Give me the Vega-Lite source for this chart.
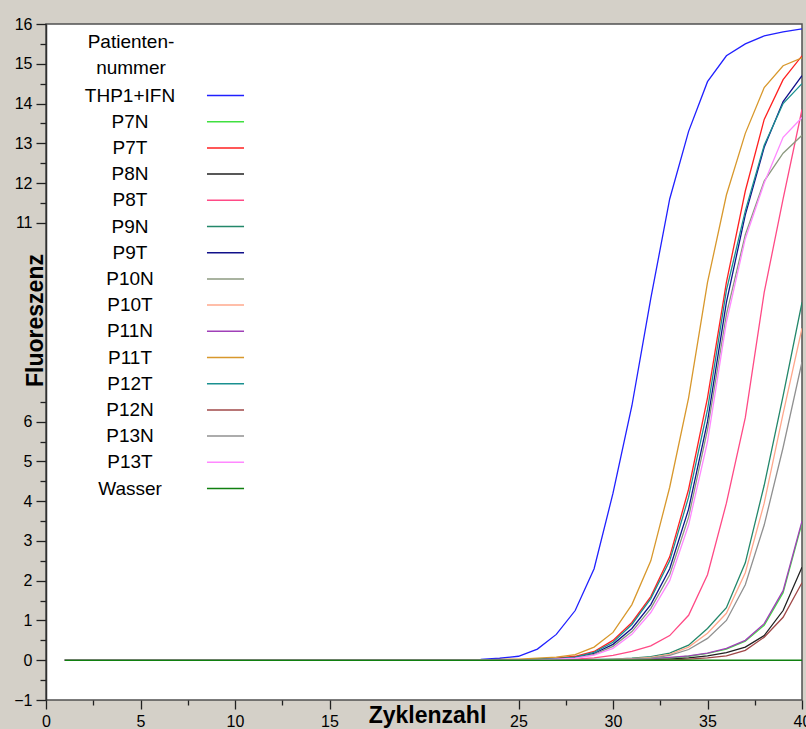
{
  "$schema": "https://vega.github.io/schema/vega-lite/v6.json",
  "width": 756,
  "height": 676,
  "autosize": {"type": "none"},
  "padding": {"left": 46, "top": 24, "right": 4, "bottom": 29},
  "background": "#d4d0c8",
  "config": {
    "view": {"fill": "white", "stroke": "#505050", "strokeWidth": 1.5},
    "font": "Liberation Sans"
  },
  "data": {"values": [
    {"c":1,"THP1+IFN":0,"P7N":0,"P7T":0,"P8N":0,"P8T":0,"P9N":0,"P9T":0,"P10N":0,"P10T":0,"P11N":0,"P11T":0,"P12T":0,"P12N":0,"P13N":0,"P13T":0,"Wasser":0},
    {"c":2,"THP1+IFN":0,"P7N":0,"P7T":0,"P8N":0,"P8T":0,"P9N":0,"P9T":0,"P10N":0,"P10T":0,"P11N":0,"P11T":0,"P12T":0,"P12N":0,"P13N":0,"P13T":0,"Wasser":0},
    {"c":3,"THP1+IFN":0,"P7N":0,"P7T":0,"P8N":0,"P8T":0,"P9N":0,"P9T":0,"P10N":0,"P10T":0,"P11N":0,"P11T":0,"P12T":0,"P12N":0,"P13N":0,"P13T":0,"Wasser":0},
    {"c":4,"THP1+IFN":0,"P7N":0,"P7T":0,"P8N":0,"P8T":0,"P9N":0,"P9T":0,"P10N":0,"P10T":0,"P11N":0,"P11T":0,"P12T":0,"P12N":0,"P13N":0,"P13T":0,"Wasser":0},
    {"c":5,"THP1+IFN":0,"P7N":0,"P7T":0,"P8N":0,"P8T":0,"P9N":0,"P9T":0,"P10N":0,"P10T":0,"P11N":0,"P11T":0,"P12T":0,"P12N":0,"P13N":0,"P13T":0,"Wasser":0},
    {"c":6,"THP1+IFN":0,"P7N":0,"P7T":0,"P8N":0,"P8T":0,"P9N":0,"P9T":0,"P10N":0,"P10T":0,"P11N":0,"P11T":0,"P12T":0,"P12N":0,"P13N":0,"P13T":0,"Wasser":0},
    {"c":7,"THP1+IFN":0,"P7N":0,"P7T":0,"P8N":0,"P8T":0,"P9N":0,"P9T":0,"P10N":0,"P10T":0,"P11N":0,"P11T":0,"P12T":0,"P12N":0,"P13N":0,"P13T":0,"Wasser":0},
    {"c":8,"THP1+IFN":0,"P7N":0,"P7T":0,"P8N":0,"P8T":0,"P9N":0,"P9T":0,"P10N":0,"P10T":0,"P11N":0,"P11T":0,"P12T":0,"P12N":0,"P13N":0,"P13T":0,"Wasser":0},
    {"c":9,"THP1+IFN":0,"P7N":0,"P7T":0,"P8N":0,"P8T":0,"P9N":0,"P9T":0,"P10N":0,"P10T":0,"P11N":0,"P11T":0,"P12T":0,"P12N":0,"P13N":0,"P13T":0,"Wasser":0},
    {"c":10,"THP1+IFN":0,"P7N":0,"P7T":0,"P8N":0,"P8T":0,"P9N":0,"P9T":0,"P10N":0,"P10T":0,"P11N":0,"P11T":0,"P12T":0,"P12N":0,"P13N":0,"P13T":0,"Wasser":0},
    {"c":11,"THP1+IFN":0,"P7N":0,"P7T":0,"P8N":0,"P8T":0,"P9N":0,"P9T":0,"P10N":0,"P10T":0,"P11N":0,"P11T":0,"P12T":0,"P12N":0,"P13N":0,"P13T":0,"Wasser":0},
    {"c":12,"THP1+IFN":0,"P7N":0,"P7T":0,"P8N":0,"P8T":0,"P9N":0,"P9T":0,"P10N":0,"P10T":0,"P11N":0,"P11T":0,"P12T":0,"P12N":0,"P13N":0,"P13T":0,"Wasser":0},
    {"c":13,"THP1+IFN":0,"P7N":0,"P7T":0,"P8N":0,"P8T":0,"P9N":0,"P9T":0,"P10N":0,"P10T":0,"P11N":0,"P11T":0,"P12T":0,"P12N":0,"P13N":0,"P13T":0,"Wasser":0},
    {"c":14,"THP1+IFN":0,"P7N":0,"P7T":0,"P8N":0,"P8T":0,"P9N":0,"P9T":0,"P10N":0,"P10T":0,"P11N":0,"P11T":0,"P12T":0,"P12N":0,"P13N":0,"P13T":0,"Wasser":0},
    {"c":15,"THP1+IFN":0,"P7N":0,"P7T":0,"P8N":0,"P8T":0,"P9N":0,"P9T":0,"P10N":0,"P10T":0,"P11N":0,"P11T":0,"P12T":0,"P12N":0,"P13N":0,"P13T":0,"Wasser":0},
    {"c":16,"THP1+IFN":0,"P7N":0,"P7T":0,"P8N":0,"P8T":0,"P9N":0,"P9T":0,"P10N":0,"P10T":0,"P11N":0,"P11T":0,"P12T":0,"P12N":0,"P13N":0,"P13T":0,"Wasser":0},
    {"c":17,"THP1+IFN":0,"P7N":0,"P7T":0,"P8N":0,"P8T":0,"P9N":0,"P9T":0,"P10N":0,"P10T":0,"P11N":0,"P11T":0,"P12T":0,"P12N":0,"P13N":0,"P13T":0,"Wasser":0},
    {"c":18,"THP1+IFN":0,"P7N":0,"P7T":0,"P8N":0,"P8T":0,"P9N":0,"P9T":0,"P10N":0,"P10T":0,"P11N":0,"P11T":0,"P12T":0,"P12N":0,"P13N":0,"P13T":0,"Wasser":0},
    {"c":19,"THP1+IFN":0,"P7N":0,"P7T":0,"P8N":0,"P8T":0,"P9N":0,"P9T":0,"P10N":0,"P10T":0,"P11N":0,"P11T":0,"P12T":0,"P12N":0,"P13N":0,"P13T":0,"Wasser":0},
    {"c":20,"THP1+IFN":0,"P7N":0,"P7T":0,"P8N":0,"P8T":0,"P9N":0,"P9T":0,"P10N":0,"P10T":0,"P11N":0,"P11T":0,"P12T":0,"P12N":0,"P13N":0,"P13T":0,"Wasser":0},
    {"c":21,"THP1+IFN":0,"P7N":0,"P7T":0,"P8N":0,"P8T":0,"P9N":0,"P9T":0,"P10N":0,"P10T":0,"P11N":0,"P11T":0,"P12T":0,"P12N":0,"P13N":0,"P13T":0,"Wasser":0},
    {"c":22,"THP1+IFN":0.01,"P7N":0,"P7T":0,"P8N":0,"P8T":0,"P9N":0,"P9T":0,"P10N":0,"P10T":0,"P11N":0,"P11T":0,"P12T":0,"P12N":0,"P13N":0,"P13T":0,"Wasser":0},
    {"c":23,"THP1+IFN":0.02,"P7N":0,"P7T":0,"P8N":0,"P8T":0,"P9N":0,"P9T":0,"P10N":0,"P10T":0,"P11N":0,"P11T":0.01,"P12T":0,"P12N":0,"P13N":0,"P13T":0,"Wasser":0},
    {"c":24,"THP1+IFN":0.05,"P7N":0,"P7T":0,"P8N":0,"P8T":0,"P9N":0,"P9T":0,"P10N":0,"P10T":0,"P11N":0,"P11T":0.02,"P12T":0,"P12N":0,"P13N":0,"P13T":0,"Wasser":0},
    {"c":25,"THP1+IFN":0.1,"P7N":0,"P7T":0.01,"P8N":0,"P8T":0,"P9N":0,"P9T":0.01,"P10N":0,"P10T":0,"P11N":0,"P11T":0.03,"P12T":0.01,"P12N":0,"P13N":0,"P13T":0,"Wasser":0},
    {"c":26,"THP1+IFN":0.28,"P7N":0,"P7T":0.02,"P8N":0,"P8T":0.01,"P9N":0,"P9T":0.02,"P10N":0.01,"P10T":0,"P11N":0,"P11T":0.05,"P12T":0.02,"P12N":0,"P13N":0,"P13T":0.01,"Wasser":0},
    {"c":27,"THP1+IFN":0.65,"P7N":0,"P7T":0.05,"P8N":0,"P8T":0.02,"P9N":0,"P9T":0.03,"P10N":0.03,"P10T":0,"P11N":0,"P11T":0.08,"P12T":0.04,"P12N":0,"P13N":0,"P13T":0.03,"Wasser":0},
    {"c":28,"THP1+IFN":1.25,"P7N":0,"P7T":0.1,"P8N":0,"P8T":0.03,"P9N":0.01,"P9T":0.07,"P10N":0.06,"P10T":0,"P11N":0,"P11T":0.14,"P12T":0.08,"P12N":0,"P13N":0,"P13T":0.05,"Wasser":0},
    {"c":29,"THP1+IFN":2.3,"P7N":0,"P7T":0.22,"P8N":0,"P8T":0.06,"P9N":0.02,"P9T":0.17,"P10N":0.15,"P10T":0.01,"P11N":0,"P11T":0.33,"P12T":0.2,"P12N":0,"P13N":0.01,"P13T":0.13,"Wasser":0},
    {"c":30,"THP1+IFN":4.2,"P7N":0.01,"P7T":0.5,"P8N":0,"P8T":0.12,"P9N":0.03,"P9T":0.4,"P10N":0.35,"P10T":0.02,"P11N":0.01,"P11T":0.7,"P12T":0.45,"P12N":0,"P13N":0.02,"P13T":0.3,"Wasser":0},
    {"c":31,"THP1+IFN":6.4,"P7N":0.02,"P7T":0.95,"P8N":0,"P8T":0.22,"P9N":0.05,"P9T":0.8,"P10N":0.72,"P10T":0.04,"P11N":0.02,"P11T":1.4,"P12T":0.9,"P12N":0,"P13N":0.03,"P13T":0.65,"Wasser":0},
    {"c":32,"THP1+IFN":9.1,"P7N":0.035,"P7T":1.6,"P8N":0.01,"P8T":0.36,"P9N":0.09,"P9T":1.4,"P10N":1.3,"P10T":0.07,"P11N":0.04,"P11T":2.5,"P12T":1.55,"P12N":0,"P13N":0.05,"P13T":1.2,"Wasser":0},
    {"c":33,"THP1+IFN":11.6,"P7N":0.06,"P7T":2.6,"P8N":0.03,"P8T":0.62,"P9N":0.18,"P9T":2.3,"P10N":2.15,"P10T":0.15,"P11N":0.07,"P11T":4.35,"P12T":2.5,"P12N":0.01,"P13N":0.12,"P13T":2.0,"Wasser":0},
    {"c":34,"THP1+IFN":13.3,"P7N":0.1,"P7T":4.3,"P8N":0.06,"P8T":1.13,"P9N":0.38,"P9T":3.8,"P10N":3.6,"P10T":0.33,"P11N":0.11,"P11T":6.6,"P12T":4.1,"P12N":0.03,"P13N":0.27,"P13T":3.4,"Wasser":0},
    {"c":35,"THP1+IFN":14.55,"P7N":0.17,"P7T":6.6,"P8N":0.11,"P8T":2.15,"P9N":0.8,"P9T":6.0,"P10N":5.8,"P10T":0.68,"P11N":0.18,"P11T":9.5,"P12T":6.3,"P12N":0.06,"P13N":0.55,"P13T":5.5,"Wasser":0},
    {"c":36,"THP1+IFN":15.2,"P7N":0.28,"P7T":9.5,"P8N":0.19,"P8T":3.95,"P9N":1.32,"P9T":9.0,"P10N":8.7,"P10T":1.18,"P11N":0.3,"P11T":11.7,"P12T":9.3,"P12N":0.11,"P13N":1.0,"P13T":8.5,"Wasser":0},
    {"c":37,"THP1+IFN":15.5,"P7N":0.48,"P7T":11.8,"P8N":0.33,"P8T":6.1,"P9N":2.45,"P9T":11.2,"P10N":10.7,"P10T":2.2,"P11N":0.5,"P11T":13.25,"P12T":11.3,"P12N":0.25,"P13N":1.9,"P13T":10.6,"Wasser":0},
    {"c":38,"THP1+IFN":15.7,"P7N":0.88,"P7T":13.6,"P8N":0.62,"P8T":9.25,"P9N":4.4,"P9T":12.9,"P10N":12.05,"P10T":3.95,"P11N":0.92,"P11T":14.4,"P12T":12.95,"P12N":0.58,"P13N":3.4,"P13T":12.0,"Wasser":0},
    {"c":39,"THP1+IFN":15.8,"P7N":1.7,"P7T":14.6,"P8N":1.25,"P8T":11.6,"P9N":6.65,"P9T":14.05,"P10N":12.75,"P10T":6.2,"P11N":1.75,"P11T":14.95,"P12T":14.0,"P12N":1.08,"P13N":5.35,"P13T":13.15,"Wasser":0},
    {"c":40,"THP1+IFN":15.88,"P7N":3.45,"P7T":15.2,"P8N":2.34,"P8T":13.85,"P9N":9.0,"P9T":14.7,"P10N":13.2,"P10T":8.35,"P11N":3.5,"P11T":15.15,"P12T":14.5,"P12N":1.95,"P13N":7.5,"P13T":13.65,"Wasser":0}
  ]},
  "transform": [
    {"fold": ["THP1+IFN","P7N","P7T","P8N","P8T","P9N","P9T","P10N","P10T","P11N","P11T","P12T","P12N","P13N","P13T","Wasser"], "as": ["Probe", "F"]}
  ],
  "mark": {"type": "line", "strokeWidth": 1.3, "clip": true},
  "encoding": {
    "x": {
      "field": "c", "type": "quantitative",
      "scale": {"domain": [0, 40], "nice": false, "zero": false},
      "axis": {
        "values": [0,2.5,5,7.5,10,12.5,15,17.5,20,22.5,25,27.5,30,32.5,35,37.5,40],
        "labelExpr": "(datum.value % 5 === 0 && datum.value !== 20) ? format(datum.value, 'd') : ''",
        "tickSize": {"condition": {"test": "datum.value % 5 === 0", "value": 9}, "value": 5},
        "tickOpacity": {"condition": {"test": "datum.value > 16 && datum.value < 24", "value": 0}, "value": 1},
        "tickColor": "#202020", "tickWidth": 1.3,
        "labelFont": "Liberation Sans", "labelFontSize": 16, "labelColor": "#000000", "labelPadding": 4,
        "labelFlush": false, "labelOverlap": false,
        "domain": false, "grid": false,
        "title": "Zyklenzahl", "titleFont": "Liberation Sans", "titleFontSize": 23, "titleFontWeight": "bold", "titleColor": "#000000",
        "titleX": 381, "titleY": 22, "titleBaseline": "alphabetic", "titleAlign": "center"
      }
    },
    "y": {
      "field": "F", "type": "quantitative",
      "scale": {"domain": [-1, 16], "nice": false, "zero": false},
      "axis": {
        "values": [-1,-0.5,0,0.5,1,1.5,2,2.5,3,3.5,4,4.5,5,5.5,6,6.5,7,7.5,8,8.5,9,9.5,10,10.5,11,11.5,12,12.5,13,13.5,14,14.5,15,15.5,16],
        "labelExpr": "(datum.value % 1 === 0 && (datum.value < 7 || datum.value > 10)) ? format(datum.value, 'd') : ''",
        "tickSize": {"condition": {"test": "datum.value % 1 === 0", "value": 10}, "value": 6},
        "tickOpacity": {"condition": {"test": "datum.value > 6.9 && datum.value < 10.9", "value": 0}, "value": 1},
        "tickColor": "#202020", "tickWidth": 1.3,
        "labelFont": "Liberation Sans", "labelFontSize": 16, "labelColor": "#000000", "labelPadding": 4,
        "labelOverlap": false,
        "domain": true, "domainColor": "#303030", "domainWidth": 1.5, "grid": false,
        "title": "Fluoreszenz", "titleFont": "Liberation Sans", "titleFontSize": 23, "titleFontWeight": "bold", "titleColor": "#000000",
        "titleAngle": 270, "titleX": -4, "titleY": 296, "titleBaseline": "alphabetic", "titleAlign": "center"
      }
    },
    "color": {
      "field": "Probe", "type": "nominal",
      "scale": {
        "domain": ["THP1+IFN","P7N","P7T","P8N","P8T","P9N","P9T","P10N","P10T","P11N","P11T","P12T","P12N","P13N","P13T","Wasser"],
        "range": ["#2020ff","#40e040","#ff2020","#202020","#ff4a86","#23876a","#10108a","#8c9a80","#ffa88c","#a040b8","#d8982c","#1a9090","#a04848","#909090","#ff88ff","#108010"]
      },
      "legend": {
        "orient": "none", "legendX": -31, "legendY": 9,
        "title": ["Patienten-", "nummer"],
        "titleFont": "Liberation Sans", "titleFontSize": 19, "titleFontWeight": "normal", "titleColor": "#000000",
        "titleAlign": "center", "titleAnchor": "middle", "titleLineHeight": 26, "titlePadding": 8, "titleLimit": 0,
        "labelFont": "Liberation Sans", "labelFontSize": 19, "labelColor": "#000000", "labelAlign": "center",
        "labelOffset": -105, "labelLimit": 0,
        "symbolType": "M-2.85,0H2.85", "symbolSize": 169, "symbolStrokeWidth": 1.5, "symbolOffset": 201,
        "rowPadding": 6.2, "padding": 0
      }
    }
  }
}
